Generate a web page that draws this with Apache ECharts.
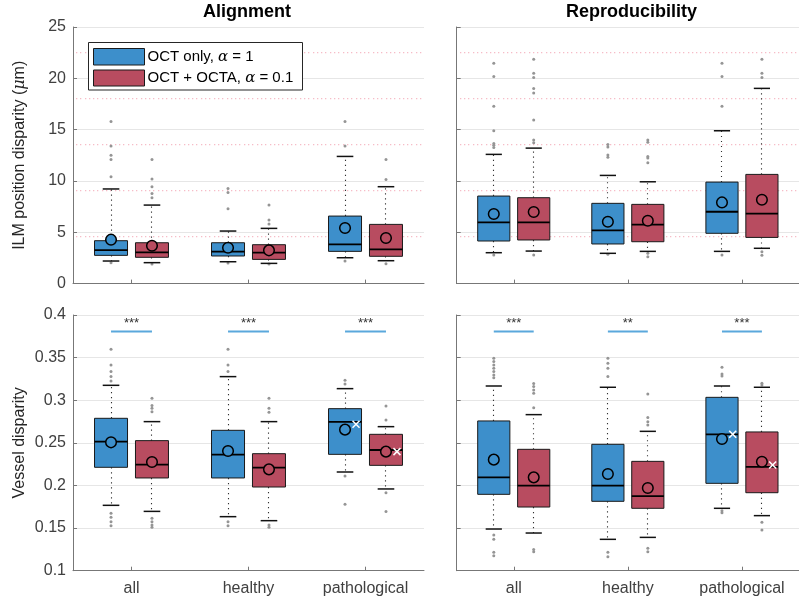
<!DOCTYPE html>
<html><head><meta charset="utf-8">
<script src="https://cdn.jsdelivr.net/npm/echarts@6/dist/echarts.min.js"></script>
<style>html,body{margin:0;padding:0;background:#fff}#c{width:799px;height:603px}</style>
</head><body><div id="c"></div>
<script>
const categories = ['all', 'healthy', 'pathological'];

// box stats: [lower whisker, Q1, median, Q3, upper whisker]
const ilmAlignOct  = [[2.2, 2.75, 3.27, 4.18, 9.22], [2.13, 2.69, 3.11, 3.98, 5.12], [2.52, 3.14, 3.82, 6.58, 12.39]];
const ilmAlignOcta = [[2.04, 2.56, 3.04, 3.98, 7.65], [1.97, 2.36, 3.01, 3.79, 5.38], [2.23, 2.66, 3.34, 5.77, 9.44]];
const ilmAlignOctMean  = [4.28, 3.5, 5.41];
const ilmAlignOctaMean = [3.69, 3.24, 4.44];
const ilmAlignOctOut  = [[15.8, 13.4, 12.5, 12.1, 10.4, 2.04], [9.26, 8.88, 7.3, 2.0], [15.8, 13.4, 2.2]];
const ilmAlignOctaOut = [[12.1, 10.18, 9.44, 8.79, 8.37, 1.9], [7.65, 6.19, 5.8, 1.9], [12.1, 10.15, 1.94]];

const ilmReproOct  = [[3.01, 4.15, 5.97, 8.53, 12.59], [2.95, 3.86, 5.19, 7.82, 10.54], [3.14, 4.9, 7.0, 9.89, 14.89]];
const ilmReproOcta = [[3.17, 4.25, 5.97, 8.37, 13.2], [3.14, 4.08, 5.74, 7.72, 9.92], [3.44, 4.5, 6.81, 10.64, 19.02]];
const ilmReproOctMean  = [6.78, 6.03, 7.91];
const ilmReproOctaMean = [6.97, 6.13, 8.17];
const ilmReproOctOut  = [[21.48, 20.18, 17.29, 14.89, 13.66, 13.47, 13.27, 2.78], [13.56, 13.3, 12.52, 12.3, 2.85], [21.48, 20.18, 17.29, 2.78]];
const ilmReproOctaOut = [[21.87, 20.5, 20.09, 19.02, 18.56, 15.93, 13.98, 13.72, 2.78], [13.98, 13.76, 12.39, 12.23, 11.77, 2.95, 2.62], [21.87, 20.5, 20.09, 3.1, 2.75]];

const vesAlignOct  = [[0.1767, 0.2213, 0.2514, 0.2788, 0.3175], [0.1634, 0.2088, 0.2362, 0.2647, 0.3277], [0.2158, 0.2365, 0.2745, 0.2901, 0.3136]];
const vesAlignOcta = [[0.1696, 0.2088, 0.2244, 0.2526, 0.2749], [0.1587, 0.1982, 0.2209, 0.2373, 0.2749], [0.1959, 0.2236, 0.2416, 0.26, 0.269]];
const vesAlignOctMean  = [0.2506, 0.2405, 0.2655];
const vesAlignOctaMean = [0.2275, 0.2189, 0.2397];
const vesAlignOctCross  = [null, null, 0.2718];
const vesAlignOctaCross = [null, null, 0.2397];
const vesAlignOctOut  = [[0.3598, 0.3414, 0.3336, 0.3277, 0.3226, 0.1673, 0.1626, 0.1575, 0.1528], [0.3598, 0.3414, 0.3336, 0.1575, 0.1528], [0.3234, 0.3191, 0.2111, 0.1779]];
const vesAlignOctaOut = [[0.3023, 0.2937, 0.2905, 0.2866, 0.1614, 0.1575, 0.1536, 0.1509], [0.3023, 0.2905, 0.2858, 0.1536, 0.1509], [0.2933, 0.2768, 0.1915, 0.1696]];

const vesReproOct  = [[0.1489, 0.1896, 0.2095, 0.2757, 0.3167], [0.1368, 0.1814, 0.1998, 0.2483, 0.3152], [0.1732, 0.2025, 0.26, 0.3034, 0.3167]];
const vesReproOcta = [[0.1442, 0.1747, 0.1998, 0.2424, 0.2831], [0.1391, 0.1732, 0.1876, 0.2283, 0.2635], [0.1646, 0.1915, 0.2217, 0.2628, 0.3152]];
const vesReproOctMean  = [0.2303, 0.2135, 0.2545];
const vesReproOctaMean = [0.2095, 0.197, 0.2279];
const vesReproOctCross  = [null, null, 0.26];
const vesReproOctaCross = [null, null, 0.224];
const vesReproOctOut  = [[0.3492, 0.3453, 0.3414, 0.3375, 0.3336, 0.3297, 0.3265, 0.1419, 0.1368, 0.1215, 0.1176], [0.3492, 0.3433, 0.3375, 0.3277, 0.1215, 0.1164], [0.3387, 0.3308, 0.3285, 0.1704, 0.1681]];
const vesReproOctaOut = [[0.3195, 0.316, 0.312, 0.3081, 0.2913, 0.125, 0.1223], [0.3074, 0.2796, 0.2749, 0.271, 0.1262, 0.1223], [0.3199, 0.3179, 0.1567, 0.1477]];

const sigAlign = ['***', '***', '***'];
const sigRepro = ['***', '**', '***'];
const sigLevel = 0.3805;
const refLines = [4.5, 9, 13.5, 18, 22.5];
const ilmTicks = { min: 0, max: 25, interval: 5 };
const vesTicks = { min: 0.1, max: 0.4, interval: 0.05 };
const seriesNames = ['OCT only, ', 'OCT + OCTA, '];
const alphaValues = ['1', '0.1'];

const BLUE = '#3d8fcb', RED = '#b84c60';
const FONT = '"Liberation Sans", Arial, sans-serif';
const OFF = 0.175, HALF = 0.141, CAP = 0.071;
const snap = v => Math.round(v - 0.5) + 0.5;

function boxSeries(g, stats, means, cross, sign, color) {
  return {
    type: 'custom', xAxisIndex: g, yAxisIndex: g, z: 5, silent: true,
    data: stats.map((d, i) => [i, d[0], d[1], d[2], d[3], d[4], means[i], cross && cross[i] != null ? cross[i] : NaN]),
    encode: { x: 0, y: [1, 2, 3, 4, 5] },
    renderItem(params, api) {
      const i = api.value(0);
      const band = api.size([1, 0])[0];
      const c = api.coord([i, 0])[0] + sign * band * OFF;
      const cx = snap(c);
      const hw = band * HALF, cw = band * CAP;
      const y = k => api.coord([i, api.value(k)])[1];
      const yl = y(1), yq1 = y(2), ym = y(3), yq3 = y(4), yh = y(5), ymean = y(6);
      const dot = { stroke: '#303030', lineWidth: 1.1, lineDash: [1.2, 3.8] };
      const ch = [
        { type: 'line', shape: { x1: cx, y1: yq3, x2: cx, y2: yh }, style: dot },
        { type: 'line', shape: { x1: cx, y1: yq1, x2: cx, y2: yl }, style: dot },
        { type: 'line', shape: { x1: c - cw, y1: yh, x2: c + cw, y2: yh }, style: { stroke: '#111', lineWidth: 1.5 } },
        { type: 'line', shape: { x1: c - cw, y1: yl, x2: c + cw, y2: yl }, style: { stroke: '#111', lineWidth: 1.5 } },
        { type: 'rect', shape: { x: c - hw, y: yq3, width: 2 * hw, height: yq1 - yq3 }, style: { fill: color, stroke: '#1a1a1a', lineWidth: 1 } },
        { type: 'line', shape: { x1: c - hw, y1: ym, x2: c + hw, y2: ym }, style: { stroke: '#000', lineWidth: 1.8 } },
        { type: 'circle', shape: { cx: c, cy: ymean, r: 5.3 }, style: { fill: color, stroke: '#000', lineWidth: 1.5 } }
      ];
      const cv = api.value(7);
      if (isFinite(cv)) {
        const yc = api.coord([i, cv])[1], xc = c + band * 0.094, s = 3.5;
        ch.push({ type: 'line', shape: { x1: xc - s, y1: yc - s, x2: xc + s, y2: yc + s }, style: { stroke: '#fff', lineWidth: 1.5 } });
        ch.push({ type: 'line', shape: { x1: xc - s, y1: yc + s, x2: xc + s, y2: yc - s }, style: { stroke: '#fff', lineWidth: 1.5 } });
      }
      return { type: 'group', children: ch };
    }
  };
}

function outSeries(g, outs, sign) {
  const data = [];
  outs.forEach((arr, i) => arr.forEach(v => data.push([i, v])));
  return {
    type: 'custom', xAxisIndex: g, yAxisIndex: g, z: 4, silent: true, data,
    encode: { x: 0, y: 1 },
    renderItem(params, api) {
      const i = api.value(0);
      const band = api.size([1, 0])[0];
      const p = api.coord([i, api.value(1)]);
      return { type: 'circle', shape: { cx: p[0] + sign * band * OFF, cy: p[1], r: 1.5 }, style: { fill: '#959595' } };
    }
  };
}

function refSeries(g) {
  return {
    type: 'custom', xAxisIndex: g, yAxisIndex: g, z: 1, silent: true,
    data: refLines.map(v => [0, v]), encode: { x: 0, y: 1 },
    renderItem(params, api) {
      const cs = params.coordSys;
      const yy = Math.round(api.coord([0, api.value(1)])[1]) - 0.5;
      const dots = [];
      for (let x = cs.x + 3; x < cs.x + cs.width; x += 4.3) {
        dots.push({ type: 'rect', shape: { x: Math.round(x), y: yy - 0.5, width: 1.3, height: 1.2 }, style: { fill: '#f6bcc7', stroke: null } });
      }
      return { type: 'group', children: dots };
    }
  };
}

function sigSeries(g, labels) {
  return {
    type: 'custom', xAxisIndex: g, yAxisIndex: g, z: 6, silent: true,
    data: labels.map((s, i) => [i, sigLevel]), encode: { x: 0, y: 1 },
    renderItem(params, api) {
      const i = api.value(0);
      const band = api.size([1, 0])[0];
      const p = api.coord([i, api.value(1)]);
      return { type: 'group', children: [
        { type: 'line', shape: { x1: p[0] - band * OFF, y1: p[1], x2: p[0] + band * OFF, y2: p[1] }, style: { stroke: '#5aa8dc', lineWidth: 2 } },
        { type: 'text', style: { x: p[0], y: p[1] - 2, text: labels[params.dataIndex], textAlign: 'center', textVerticalAlign: 'bottom', font: '13px ' + FONT, fill: '#333' } }
      ] };
    }
  };
}

const grids = [
  { left: 73, top: 27, width: 351, height: 256.6 },
  { left: 456.7, top: 27, width: 351, height: 256.6 },
  { left: 73, top: 315, width: 351, height: 255.7 },
  { left: 456.7, top: 315, width: 351, height: 255.7 }
];
const axisColor = '#777';
const xAxes = grids.map((g, k) => ({
  type: 'category', gridIndex: k, data: categories, boundaryGap: true,
  axisLine: { show: true, lineStyle: { color: axisColor, width: 1 } },
  axisTick: { show: true, inside: true, alignWithLabel: true, length: 4, lineStyle: { color: axisColor } },
  axisLabel: { show: k >= 2, fontSize: 16, color: '#404040', fontFamily: FONT, margin: 10 },
  splitLine: { show: false }
}));
const yAxes = grids.map((g, k) => {
  const t = k < 2 ? ilmTicks : vesTicks;
  const ax = {
    type: 'value', gridIndex: k, min: t.min, max: t.max, interval: t.interval,
    axisLine: { show: true, lineStyle: { color: axisColor, width: 1 } },
    axisTick: { show: true, inside: true, length: 4, lineStyle: { color: axisColor } },
    axisLabel: { show: k % 2 === 0, fontSize: 16, color: '#404040', fontFamily: FONT, margin: 7 },
    splitLine: { show: true, lineStyle: { color: '#e6e6e6', width: 1 } }
  };
  if (k === 0) {
    ax.name = 'ILM position disparity ({i|μ}m)';
  } else if (k === 2) {
    ax.name = 'Vessel disparity';
  }
  if (k % 2 === 0) {
    ax.nameLocation = 'middle'; ax.nameGap = 45; ax.nameRotate = 90;
    ax.nameTextStyle = { fontSize: 16, color: '#262626', fontFamily: FONT,
      rich: { i: { fontSize: 16, fontStyle: 'italic', fontFamily: '"DejaVu Serif", serif', color: '#262626' } } };
  }
  return ax;
});

const series = [
  refSeries(0), refSeries(1),
  outSeries(0, ilmAlignOctOut, -1), outSeries(0, ilmAlignOctaOut, 1),
  boxSeries(0, ilmAlignOct, ilmAlignOctMean, null, -1, BLUE), boxSeries(0, ilmAlignOcta, ilmAlignOctaMean, null, 1, RED),
  outSeries(1, ilmReproOctOut, -1), outSeries(1, ilmReproOctaOut, 1),
  boxSeries(1, ilmReproOct, ilmReproOctMean, null, -1, BLUE), boxSeries(1, ilmReproOcta, ilmReproOctaMean, null, 1, RED),
  outSeries(2, vesAlignOctOut, -1), outSeries(2, vesAlignOctaOut, 1),
  boxSeries(2, vesAlignOct, vesAlignOctMean, vesAlignOctCross, -1, BLUE), boxSeries(2, vesAlignOcta, vesAlignOctaMean, vesAlignOctaCross, 1, RED),
  outSeries(3, vesReproOctOut, -1), outSeries(3, vesReproOctaOut, 1),
  boxSeries(3, vesReproOct, vesReproOctMean, vesReproOctCross, -1, BLUE), boxSeries(3, vesReproOcta, vesReproOctaMean, vesReproOctaCross, 1, RED),
  sigSeries(2, sigAlign), sigSeries(3, sigRepro)
];

const legendRich = { a: { font: 'italic 15px "DejaVu Serif", serif', fill: '#000' } };
const graphic = [
  { type: 'text', left: 248 - 45, top: 3, z: 100, style: { text: 'Alignment', font: 'bold 18px ' + FONT, fill: '#000' } },
  { type: 'text', left: 633 - 67, top: 3, z: 100, style: { text: 'Reproducibility', font: 'bold 18px ' + FONT, fill: '#000' } },
  { type: 'rect', z: 100, shape: { x: 88.5, y: 42.5, width: 214, height: 47.5 }, style: { fill: '#fff', stroke: '#262626', lineWidth: 1 } },
  { type: 'rect', z: 101, shape: { x: 93.5, y: 48.5, width: 51, height: 16.5 }, style: { fill: BLUE, stroke: '#1a1a1a', lineWidth: 1 } },
  { type: 'rect', z: 101, shape: { x: 93.5, y: 70, width: 51, height: 16 }, style: { fill: RED, stroke: '#1a1a1a', lineWidth: 1 } },
  { type: 'text', z: 101, x: 147.5, y: 57, style: { text: seriesNames[0] + '{a|α} = ' + alphaValues[0], font: '15px ' + FONT, fill: '#000', textVerticalAlign: 'middle', rich: legendRich } },
  { type: 'text', z: 101, x: 147.5, y: 78, style: { text: seriesNames[1] + '{a|α} = ' + alphaValues[1], font: '15px ' + FONT, fill: '#000', textVerticalAlign: 'middle', rich: legendRich } }
];

const chart = echarts.init(document.getElementById('c'), null, { renderer: 'canvas' });
chart.setOption({ animation: false, backgroundColor: '#fff', grid: grids, xAxis: xAxes, yAxis: yAxes, series, graphic });
</script></body></html>
